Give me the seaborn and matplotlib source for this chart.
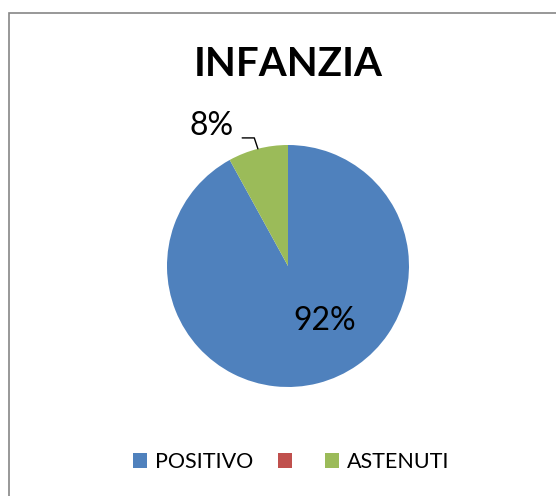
import numpy as np
import matplotlib
matplotlib.use("Agg")
import matplotlib.pyplot as plt
import seaborn as sns
from matplotlib.patches import Rectangle, Patch

# data
categories = ["POSITIVO", "", "ASTENUTI"]
values = [92, 0, 8]
colors = ["#4F81BD", "#C0504D", "#9BBB59"]
title = "INFANZIA"

sns.set_style("white")
plt.rcParams['font.family'] = ['Lato', 'DejaVu Sans']
plt.rcParams['text.color'] = 'black'

W, H = 556, 496
fig = plt.figure(figsize=(W / 100, H / 100), dpi=100)

# pie centre (288, 266) px, radius 121 px
cx, cy, r = 288, 266, 121
ax = fig.add_axes([(cx - r) / W, (H - cy - r) / H, 2 * r / W, 2 * r / H])
wedges, _ = ax.pie(values, colors=colors, startangle=90, counterclock=False,
                   radius=1, wedgeprops=dict(linewidth=0))
ax.set_xlim(-1, 1)
ax.set_ylim(-1, 1)
ax.set_aspect('equal')
ax.axis('off')

# labels
total = sum(values)
pct = [f"{round(v / total * 100)}%" for v in values]
ax.text(0.306, -0.455, pct[0], ha='center', va='center', fontsize=23)

# small slice label with leader line
w = wedges[2]
mid = np.deg2rad((w.theta1 + w.theta2) / 2)
ex, ey = np.cos(mid), np.sin(mid)
ax.plot([ex, ex - 0.03, ex - 0.13], [ey, ey + 0.09, ey + 0.09],
        color='black', lw=1, clip_on=False)
ax.text(ex - 0.2, ey + 0.185, pct[2], ha='right', va='center', fontsize=23)

fig.text(cx / W, 1 - 64 / H, title, ha='center', va='center',
         fontsize=29, fontweight='bold')

handles = [Patch(facecolor=c, edgecolor='none') for c in colors]
fig.legend(handles, categories, loc='center', bbox_to_anchor=(291 / W, 1 - 462 / H),
           ncol=3, frameon=False, fontsize=15.5, handlelength=0.65, handleheight=0.65,
           handletextpad=0.37, columnspacing=1.16)

# outer chart border (clipped at right and bottom)
fig.patches.append(Rectangle((9 / W, -0.1), 1.2, 1.1 - 13 / H,
                             transform=fig.transFigure, fill=False,
                             edgecolor='#868686', lw=1.2))

fig.savefig("out.png", dpi=100)
